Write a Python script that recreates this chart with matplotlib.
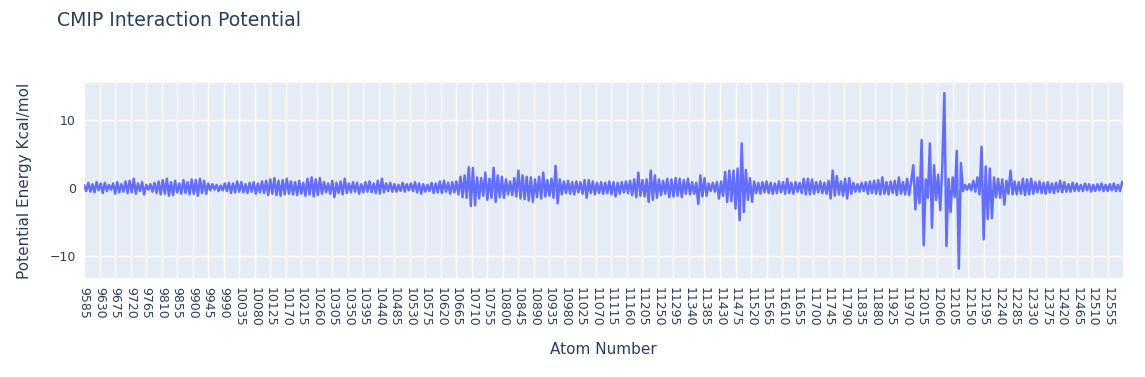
#CMIP interaction potential per atom
#line over atom numbers, plotly-like look

import numpy as np
import matplotlib.pyplot as plt

plt.rcParams['font.family'] = ['DejaVu Sans']

e_9585 = [3, -5, 7, -6, 5, -7, 8, -4, 6, -8, 7, -5, 4, -3, 6, -9, 8, -7, 5, -6,
          9, -8, 10, -7, 13, -9, 6, -5, 8, -10, 4, -3, 5, -6, 7, -8, 9, -10, 11, -9,
          13, -12, 8, -11, 10, -7, 6, -9, 11, -8]
e_9885 = [8, -10, 12, -9, 11, -12, 13, -8, 10, -9, 6, -4, 5, -3, 4, -5, 3, -4, 6, -5,
          7, -8, 6, -7, 9, -6, 8, -7, 5, -8, 7, -6, 8, -9, 6, -7, 9, -8, 10, -11,
          12, -9, 14, -11, 10, -12, 11, -10, 13, -9]
e_10185 = [9, -10, 8, -11, 10, -9, 7, -12, 13, -10, 15, -13, 12, -11, 14, -9, 8, -7, 6, -9,
           10, -14, 7, -8, 9, -10, 13, -8, 6, -7, 8, -6, 7, -9, 5, -7, 8, -6, 9, -7,
           6, -8, 10, -9, 13, -7, 6, -5, 7, -6]
e_10485 = [5, -6, 4, -5, 7, -6, 5, -4, 6, -5, 8, -7, 6, -9, 5, -6, 4, -5, 7, -8,
           6, -7, 9, -8, 10, -6, 7, -9, 8, -7, 9, -10, 16, -14, 18, -15, 30, -27, 29, -26,
           15, -16, 14, -12, 22, -18, 13, -15, 29, -21]
e_10785 = [18, -14, 16, -15, 12, -10, 9, -11, 14, -13, 25, -16, 18, -17, 16, -19, 15, -21, 12, -14,
           16, -16, 22, -13, 11, -12, 13, -15, 32, -23, 12, -10, 9, -8, 10, -9, 8, -10, 9, -7,
           8, -9, 11, -15, 11, -8, 9, -10, 7, -8]
e_11085 = [8, -9, 7, -8, 9, -10, 8, -13, 7, -9, 8, -7, 9, -8, 10, -11, 12, -14, 22, -12,
           11, -13, 12, -21, 25, -18, 18, -15, 12, -11, 10, -9, 13, -14, 12, -13, 14, -12, 13, -14,
           11, -9, 13, -10, 8, -9, 7, -24, 18, -13]
e_11385 = [14, -12, 6, -5, 7, -6, 8, -16, 9, -12, 23, -21, 25, -20, 25, -31, 28, -48, 65, -36,
           26, -18, 14, -21, 9, -8, 7, -9, 8, -7, 9, -8, 7, -9, 6, -8, 9, -7, 8, -9,
           13, -8, 7, -9, 8, -6, 7, -8, 13, -10]
e_11685 = [13, -10, 12, -9, 8, -7, 9, -8, 7, -9, 10, -16, 25, -12, 17, -10, 9, -12, 13, -16,
           14, -9, 7, -6, 5, -6, 7, -5, 8, -9, 9, -8, 10, -9, 11, -10, 15, -9, 8, -10,
           9, -8, 10, -11, 15, -9, 8, -10, 13, -11]
e_11985 = [10, 33, -32, 15, -23, 70, -85, 12, -15, 65, -59, 33, -18,
           19, -33, 30, 139, -86, 13, -36, 15, -14, 54, -119, 36, -5, 4, -3, 5, -4,
           10, -6, 15, -10, 60, -76, 31, -46, 28, -45, 15, -14, 13, -15, 12, -25, 10, -9, 25, -10]
e_12285 = [9, -10, 8, -9, 13, -11, 12, -10, 13, -9, 8, -7, 9, -8, 7, -9, 8, -7, 6, -8,
           7, -6, 10, -7, 8, -6, 5, -6, 7, -5, 6, -5, 4, -5, 6, -4, 5, -6, 4, -5,
           5, -4, 6, -5, 4, -5, 5, -4, 6, -5]
e_12585 = [4, -5, 8]

atom_start = 9585
atom_step = 6
last_atom = 12598

energy = np.array(e_9585 + e_9885 + e_10185 + e_10485 + e_10785 + e_11085 +
                  e_11385 + e_11685 + e_11985 + e_12285 + e_12585) / 10.0
atoms = atom_start + atom_step * np.arange(len(energy))

tick_atoms = list(range(9585, 12556, 45))

W, H = 1145, 377
fig = plt.figure(figsize=(W / 100, H / 100), dpi=100)
left, right, top, bottom = 84, 1122.7, 83.3, 278.3
ax = fig.add_axes([left / W, 1 - bottom / H, (right - left) / W, (bottom - top) / H])
ax.set_facecolor('#E5ECF6')

ax.plot(atoms, energy, color='#636EFA', linewidth=1.8, zorder=3)

ax.set_xlim(atom_start - 0.5, last_atom + 0.5)
ax.set_ylim(-13.34, 15.34)

ax.set_xticks(tick_atoms)
ax.set_xticklabels([str(a) for a in tick_atoms], rotation=-90)
ax.set_yticks([-10, 0, 10])
ax.tick_params(length=0, labelsize=9, labelcolor='#2a3f5f')
ax.tick_params(axis='x', pad=6)
ax.tick_params(axis='y', pad=6)

ax.grid(True, color='white', linewidth=1, zorder=1)
ax.axhline(0, color='white', linewidth=2, zorder=2)
ax.set_axisbelow(True)
for s in ax.spines.values():
    s.set_visible(False)

fig.text(57 / W, 1 - 21 / H, 'CMIP Interaction Potential', fontsize=13.6,
         color='#2a3f5f', va='center', ha='left')
fig.text(25 / W, 1 - 180.8 / H, 'Potential Energy Kcal/mol', fontsize=11,
         color='#2a3f5f', va='center', ha='center', rotation=90)
fig.text(603 / W, 1 - 349 / H, 'Atom Number', fontsize=11,
         color='#2a3f5f', va='center', ha='center')

fig.savefig('out.png', dpi=100)
